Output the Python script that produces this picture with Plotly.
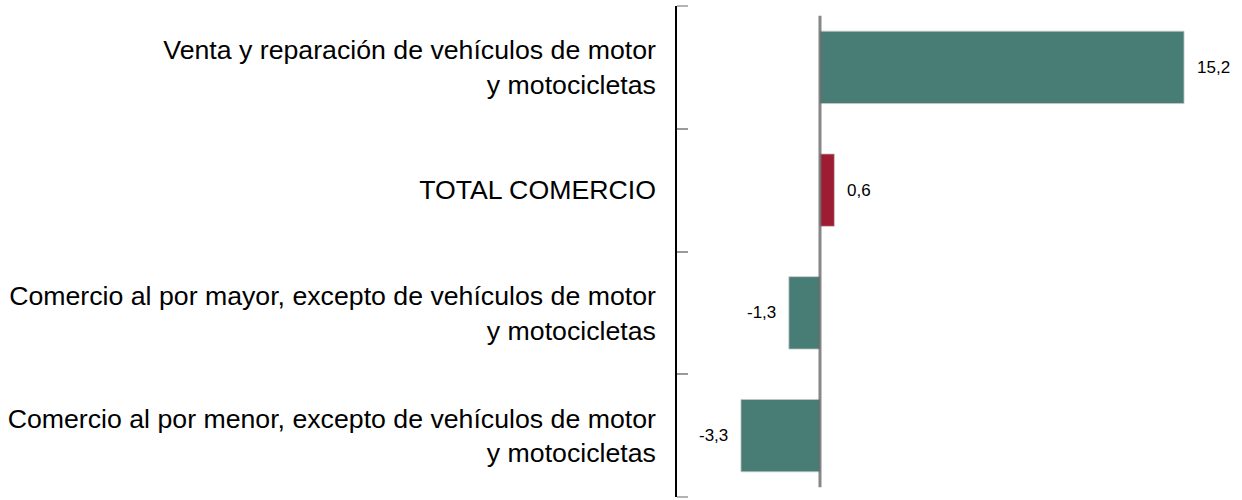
import plotly.graph_objects as go

categories = [
    "Venta y reparación de vehículos de motor<br>y motocicletas",
    "TOTAL COMERCIO",
    "Comercio al por mayor, excepto de vehículos de motor<br>y motocicletas",
    "Comercio al por menor, excepto de vehículos de motor<br>y motocicletas",
]
values = [15.2, 0.6, -1.3, -3.3]
value_labels = ["15,2", "0,6", "-1,3", "-3,3"]

TEAL = "#477D75"
RED = "#9E1B34"
colors = [RED if c == "TOTAL COMERCIO" else TEAL for c in categories]

FONT = "Liberation Sans, Arial, sans-serif"

fig = go.Figure()
fig.add_trace(go.Bar(
    x=values, y=categories, orientation="h",
    marker=dict(color=colors, line=dict(color="rgba(200,200,200,0.8)", width=1)),
    hoverinfo="skip",
))

for v, c, t in zip(values, categories, value_labels):
    fig.add_annotation(
        x=v, y=c, text=t, showarrow=False,
        xanchor="left" if v >= 0 else "right",
        xshift=11 if v >= 0 else -11,
        font=dict(family=FONT, size=17, color="#000000"),
    )

# zero reference line
fig.add_shape(type="line", xref="x", yref="paper", x0=0, x1=0, y0=0.02, y1=0.98,
              line=dict(color="rgba(105,105,105,0.8)", width=3), layer="above")

# end ticks at top and bottom of the category axis
PLOT_W = 1242 - 677
for yy in (0, 1):
    fig.add_shape(type="line", xref="paper", yref="paper", x0=0, x1=11 / PLOT_W,
                  y0=yy, y1=yy, line=dict(color="#9a9a9a", width=1.5), layer="above")

fig.update_layout(
    width=1242, height=500,
    margin=dict(l=677, r=0, t=6, b=3),
    paper_bgcolor="white", plot_bgcolor="white",
    showlegend=False,
    bargap=0.41,
    xaxis=dict(range=[-5.97, 17.62], visible=False, showgrid=False, zeroline=False),
    yaxis=dict(
        categoryorder="array", categoryarray=categories,
        range=[3.5, -0.5],
        showline=True, linecolor="#000000", linewidth=1.5,
        ticks="inside", ticklen=11, tickcolor="#9a9a9a", tickwidth=1.5,
        tickson="boundaries",
        showgrid=False, zeroline=False,
        ticklabelstandoff=14,
        tickfont=dict(family=FONT, size=26.7, color="#000000"),
    ),
)

fig.write_html("out.html", config={"displayModeBar": False},
               post_script="document.body.style.margin='0';")
